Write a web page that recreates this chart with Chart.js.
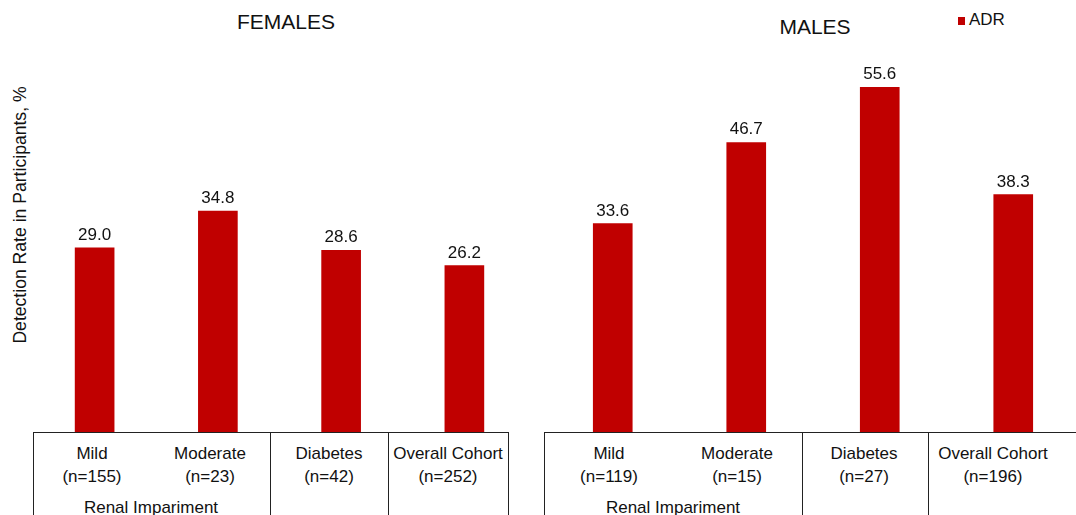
<!DOCTYPE html>
<html>
<head>
<meta charset="utf-8">
<script src="https://cdn.jsdelivr.net/npm/chart.js@4"></script>
<style>
  html, body { margin: 0; padding: 0; background: #fff; }
  #wrap { position: relative; width: 1076px; height: 515px; overflow: hidden;
          font-family: "Liberation Sans", Arial, sans-serif; color: #111; }
  .abs { position: absolute; white-space: nowrap; }
  .ctr { transform: translate(-50%, -50%); text-align: center; }
  .title { font-size: 21px; }
  .cell { font-size: 17px; line-height: 23px; }
  .box { position: absolute; top: 432px; height: 120px; border: 1.5px solid #222; box-sizing: border-box; }
  .vline { position: absolute; top: 432px; height: 120px; width: 0; border-left: 1.5px solid #222; }
  canvas { position: absolute; }
</style>
</head>
<body>
<div id="wrap">
  <div class="abs ctr title" style="left:286px; top:22px;">FEMALES</div>
  <div class="abs ctr title" style="left:815px; top:27px;">MALES</div>

  <div class="abs" style="left:958px; top:17px; width:7px; height:8px; background:#c00000;"></div>
  <div class="abs" style="left:969px; top:10px; font-size:17px;">ADR</div>

  <div class="abs" style="left:20px; top:215px; font-size:17.6px; transform: translate(-50%, -50%) rotate(-90deg);">Detection Rate in Participants, %</div>

  <canvas id="femChart"></canvas>
  <canvas id="maleChart"></canvas>

  <!-- category table under each panel -->
  <div class="box" style="left:33px; width:476px;"></div>
  <div class="vline" style="left:270px;"></div>
  <div class="vline" style="left:388px;"></div>

  <div class="box" style="left:544px; width:600px;"></div>
  <div class="vline" style="left:802px;"></div>
  <div class="vline" style="left:928px;"></div>

  <div id="cells"></div>
</div>

<script>
const CATEGORIES = ["Mild", "Moderate", "Diabetes", "Overall Cohort"];
const FEMALE_N = [155, 23, 42, 252];
const MALE_N = [119, 15, 27, 196];
const FEMALE_ADR = [29.0, 34.8, 28.6, 26.2];
const MALE_ADR = [33.6, 46.7, 55.6, 38.3];
const GROUP_LABEL = "Renal Impariment";
const BAR_COLOR = "#c00000";

// table text: x centres of each column label
const femCellX = [92, 210, 329, 448];
const maleCellX = [609, 737, 864, 993];

function placeCells(xs, ns, groupX) {
  const host = document.getElementById("cells");
  xs.forEach((x, i) => {
    const d = document.createElement("div");
    d.className = "abs ctr cell";
    d.style.left = x + "px";
    d.style.top = "465px";
    d.innerHTML = CATEGORIES[i] + "<br>(n=" + ns[i] + ")";
    host.appendChild(d);
  });
  const g = document.createElement("div");
  g.className = "abs ctr cell";
  g.style.left = groupX + "px";
  g.style.top = "507px";
  g.textContent = GROUP_LABEL;
  host.appendChild(g);
}
placeCells(femCellX, FEMALE_N, 151);
placeCells(maleCellX, MALE_N, 673);

// value above each bar
const valueLabels = {
  id: "valueLabels",
  afterDatasetsDraw(chart) {
    const { ctx } = chart;
    const ds = chart.data.datasets[0];
    chart.getDatasetMeta(0).data.forEach((bar, i) => {
      ctx.save();
      ctx.font = '17px "Liberation Sans", Arial, sans-serif';
      ctx.fillStyle = "#111";
      ctx.textAlign = "center";
      ctx.textBaseline = "alphabetic";
      ctx.fillText(ds.data[i].toFixed(1), bar.x, bar.y - 8);
      ctx.restore();
    });
  },
};

function makeChart(id, left, top, width, height, values) {
  const el = document.getElementById(id);
  el.style.left = left + "px";
  el.style.top = top + "px";
  el.width = width;
  el.height = height;
  el.style.width = width + "px";
  el.style.height = height + "px";
  return new Chart(el, {
    type: "bar",
    data: {
      labels: CATEGORIES,
      datasets: [{
        label: "ADR",
        data: values,
        backgroundColor: BAR_COLOR,
        borderWidth: 0,
        barThickness: 39,
      }],
    },
    options: {
      responsive: false,
      animation: false,
      layout: { padding: 0 },
      scales: {
        x: { display: false },
        y: { display: false, min: 0, max: 60 },
      },
      plugins: { legend: { display: false }, tooltip: { enabled: false } },
    },
    plugins: [valueLabels],
  });
}

makeChart("femChart", 33, 51, 493, 381, FEMALE_ADR);
makeChart("maleChart", 546, 60, 534, 372, MALE_ADR);
</script>
</body>
</html>
